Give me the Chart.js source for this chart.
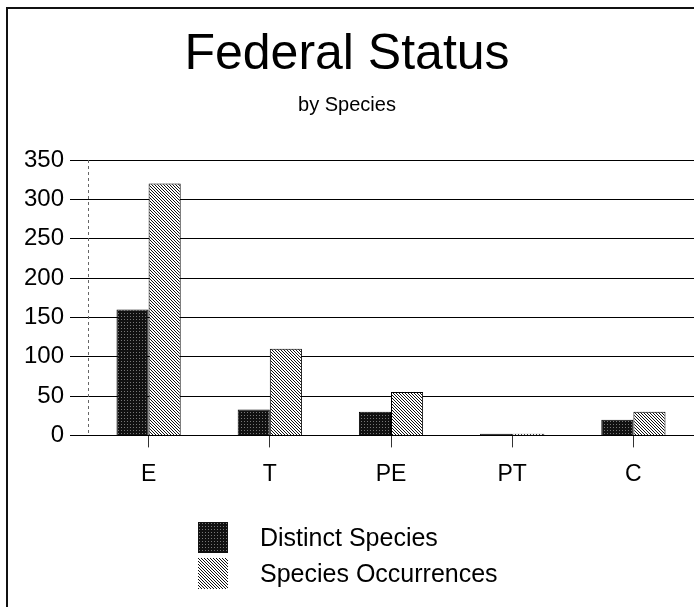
<!DOCTYPE html>
<html>
<head>
<meta charset="utf-8">
<script src="https://cdn.jsdelivr.net/npm/chart.js@4"></script>
<style>
  html, body { margin: 0; padding: 0; background: #fff; overflow: hidden; }
  #wrap { position: relative; width: 694px; height: 607px; }
  #frame { position: absolute; left: 6px; top: 7px; width: 700px; height: 620px; border: 2px solid #111; }
  #legend { position: absolute; left: 198px; top: 519px; font-family: "Liberation Sans", Arial, sans-serif; font-size: 25px; color: #000; }
  .item { display: flex; align-items: center; height: 36px; }
  .item canvas { width: 30px; height: 31px; margin-right: 32px; }
</style>
</head>
<body>
<div id="wrap">
  <div id="frame"></div>
  <canvas id="fedChart" width="694" height="607"></canvas>
  <div id="legend"></div>
</div>
<script>
// values
const categories = ["E", "T", "PE", "PT", "C"];
const distinctSpecies = [160, 33, 30, 2, 20];
const speciesOccurrences = [320, 110, 55, 2, 30];
const yTicks = [0, 50, 100, 150, 200, 250, 300, 350];

const FONT = '"Liberation Sans", Arial, sans-serif';

// dark screen tone, like the scanned solid bars
function darkPattern(ctx) {
  const c = document.createElement('canvas');
  c.width = 3; c.height = 3;
  const t = c.getContext('2d');
  t.fillStyle = '#111';
  t.fillRect(0, 0, 3, 3);
  t.fillStyle = '#777';
  t.fillRect(1, 1, 1, 1);
  return ctx.createPattern(c, 'repeat');
}

// back-slash hatching
function hatchPattern(ctx) {
  const c = document.createElement('canvas');
  c.width = 3; c.height = 3;
  const t = c.getContext('2d');
  t.fillStyle = '#fff';
  t.fillRect(0, 0, 3, 3);
  t.fillStyle = '#111';
  for (let i = 0; i < 3; i++) t.fillRect(i, i, 1, 1);
  return ctx.createPattern(c, 'repeat');
}

// faint dotted y axis line (border.dash would dash the grid too)
const dottedAxis = {
  id: 'dottedAxis',
  afterDatasetsDraw(chart) {
    const y = chart.scales.y;
    const c = chart.ctx;
    c.save();
    c.strokeStyle = '#666';
    c.lineWidth = 1;
    c.setLineDash([3, 3]);
    c.beginPath();
    c.moveTo(y.right + 0.5, y.top);
    c.lineTo(y.right + 0.5, y.bottom);
    c.stroke();
    c.restore();
  }
};

const ctx = document.getElementById('fedChart').getContext('2d');
const fills = [darkPattern(ctx), hatchPattern(ctx)];

const fedChart = new Chart(ctx, {
  type: 'bar',
  data: {
    labels: categories,
    datasets: [
      {
        label: "Distinct Species",
        data: distinctSpecies,
        backgroundColor: fills[0],
        borderColor: '#000',
        borderWidth: 1
      },
      {
        label: "Species Occurrences",
        data: speciesOccurrences,
        backgroundColor: fills[1],
        borderColor: '#000',
        borderWidth: 1
      }
    ]
  },
  options: {
    responsive: false,
    animation: false,
    categoryPercentage: 0.53,
    barPercentage: 1.0,
    layout: {
      padding: { top: 0, left: 0, right: 0, bottom: 106 }
    },
    plugins: {
      legend: { display: false },
      tooltip: { enabled: false },
      title: {
        display: true,
        text: "Federal Status",
        color: '#000',
        font: { family: FONT, size: 50, weight: 'normal' },
        padding: { top: 25, bottom: 0 }
      },
      subtitle: {
        display: true,
        text: "by Species",
        color: '#000',
        font: { family: FONT, size: 20, weight: 'normal' },
        padding: { top: 8, bottom: 43 }
      }
    },
    scales: {
      x: {
        grid: {
          display: true,
          drawOnChartArea: false,
          drawTicks: true,
          tickLength: 12,
          offset: false,
          color: '#333'
        },
        border: { display: true, color: '#000', width: 1 },
        ticks: {
          color: '#000',
          padding: 13,
          font: { family: FONT, size: 23 }
        }
      },
      y: {
        min: 0,
        max: 350,
        afterFit: function(scale) { scale.width = 88; },
        afterBuildTicks: function(scale) {
          scale.ticks = yTicks.map(v => ({ value: v }));
        },
        grid: {
          color: '#000',
          lineWidth: 1,
          tickLength: 18
        },
        border: { display: false },
        ticks: {
          color: '#000',
          padding: 6,
          font: { family: FONT, size: 24 }
        }
      }
    }
  },
  plugins: [dottedAxis]
});

// legend stacked in a column, under the plot
const legend = document.getElementById('legend');
fedChart.data.datasets.forEach(function(ds, i) {
  const row = document.createElement('div');
  row.className = 'item';
  const sw = document.createElement('canvas');
  sw.width = 30; sw.height = 31;
  const sctx = sw.getContext('2d');
  sctx.fillStyle = i === 0 ? darkPattern(sctx) : hatchPattern(sctx);
  sctx.fillRect(0, 0, 30, 31);
  const txt = document.createElement('span');
  txt.textContent = ds.label;
  row.appendChild(sw);
  row.appendChild(txt);
  legend.appendChild(row);
});
</script>
</body>
</html>
